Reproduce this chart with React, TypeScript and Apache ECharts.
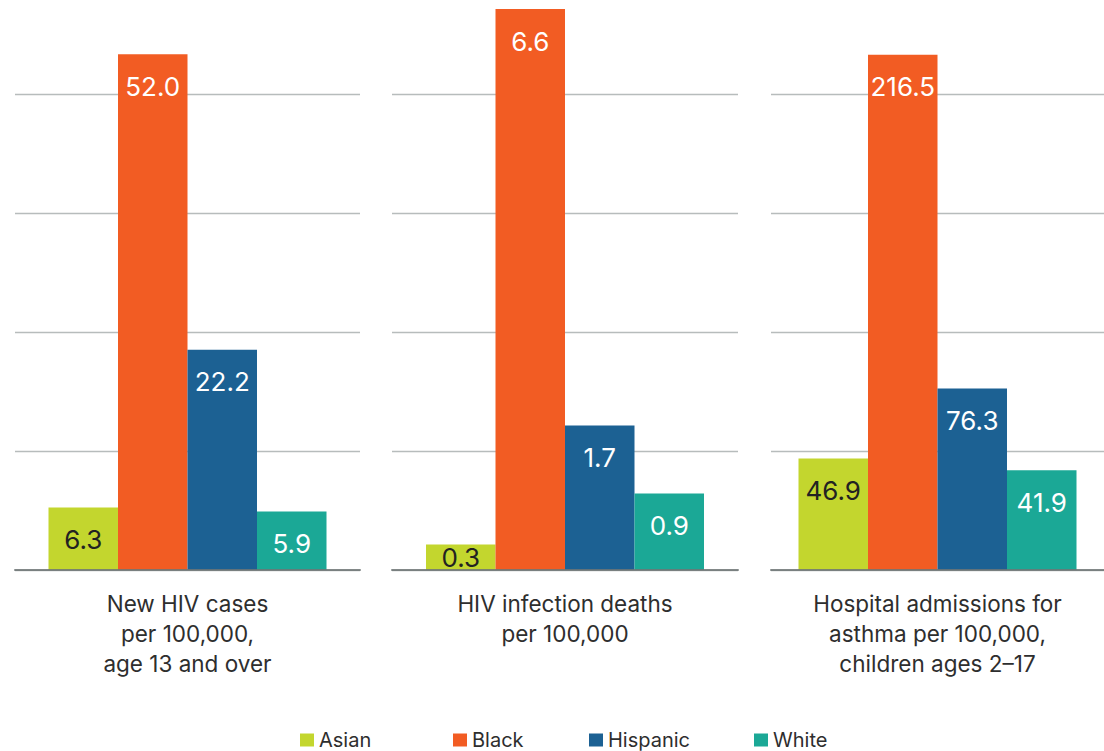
import React, { useEffect, useRef } from "react";
import * as echarts from "echarts";

const groups = [
  "New HIV cases\nper 100,000,\nage 13 and over",
  "HIV infection deaths\nper 100,000",
  "Hospital admissions for\nasthma per 100,000,\nchildren ages 2–17",
];
const races = ["Asian", "Black", "Hispanic", "White"];
const asian = [6.3, 0.3, 46.9];
const black = [52.0, 6.6, 216.5];
const hispanic = [22.2, 1.7, 76.3];
const white = [5.9, 0.9, 41.9];
const axisMax = [60, 7, 250];
const axisStep = [12, 1.4, 50];

const seriesValues = [asian, black, hispanic, white];
const colors = ["#c3d62e", "#f25c23", "#1c6193", "#1ba896"];
const labelColors = ["#222222", "#ffffff", "#ffffff", "#ffffff"];
const FONT = "Inter, 'DejaVu Sans', sans-serif";

const SHIFT = 25;
const gridBoxes = [
  { left: 15, width: 345 },
  { left: 392, width: 346 },
  { left: 771, width: 344 },
];
const legendLeft = [300, 453, 589, 754];

export default function App() {
  const ref = useRef<HTMLDivElement>(null);
  useEffect(() => {
    if (!ref.current) return;
    const chart = echarts.init(ref.current, undefined, { renderer: "svg" });
    const grid = gridBoxes.map((g) => ({
      left: g.left,
      width: g.width,
      top: 0,
      height: 595,
      containLabel: false,
    }));
    const xAxis = groups.map((name, i) => ({
      type: "category",
      gridIndex: i,
      data: [name],
      z: 10,
      axisTick: { show: false },
      axisLine: { show: true, lineStyle: { color: "rgba(110,118,118,0.85)", width: 2 } },
      axisLabel: {
        margin: 18,
        fontFamily: FONT,
        fontSize: 22.5,
        lineHeight: 30,
        color: "#2e2e2e",
        interval: 0,
      },
    }));
    const yAxis = groups.map((_, i) => ({
      type: "value",
      gridIndex: i,
      min: 0,
      max: axisMax[i],
      interval: axisStep[i],
      axisLabel: { show: false },
      axisLine: { show: false },
      axisTick: { show: false },
      splitLine: { show: true, lineStyle: { color: "#b7bcbc", width: 1.3 } },
    }));
    const series: any[] = [];
    groups.forEach((_, gi) => {
      races.forEach((race, ri) => {
        const v = seriesValues[ri][gi];
        const small = v / axisMax[gi] < 0.08;
        series.push({
          type: "bar",
          name: race,
          xAxisIndex: gi,
          yAxisIndex: gi,
          barWidth: 69.5,
          barGap: "0%",
          itemStyle: { color: colors[ri] },
          label: {
            show: true,
            position: small ? "inside" : "insideTop",
            distance: 19,
            fontFamily: FONT,
            fontSize: 26,
            color: labelColors[ri],
            formatter: (p: any) => Number(p.value).toFixed(1),
          },
          data: [v],
        });
      });
    });
    const legend = races.map((r, i) => ({
      data: [r],
      left: legendLeft[i],
      top: 730 + SHIFT,
      icon: "rect",
      itemWidth: 14,
      itemHeight: 13,
      itemGap: 0,
      padding: 0,
      textStyle: { fontFamily: FONT, fontSize: 20, color: "#2e2e2e" },
      selectedMode: false,
    }));
    chart.setOption({
      animation: false,
      backgroundColor: "#ffffff",
      grid,
      xAxis,
      yAxis,
      legend,
      series,
    });
    return () => chart.dispose();
  }, []);
  return (
    <div
      ref={ref}
      style={{ position: "fixed", left: 0, top: -SHIFT, width: 1104, height: 751 + SHIFT }}
    />
  );
}
